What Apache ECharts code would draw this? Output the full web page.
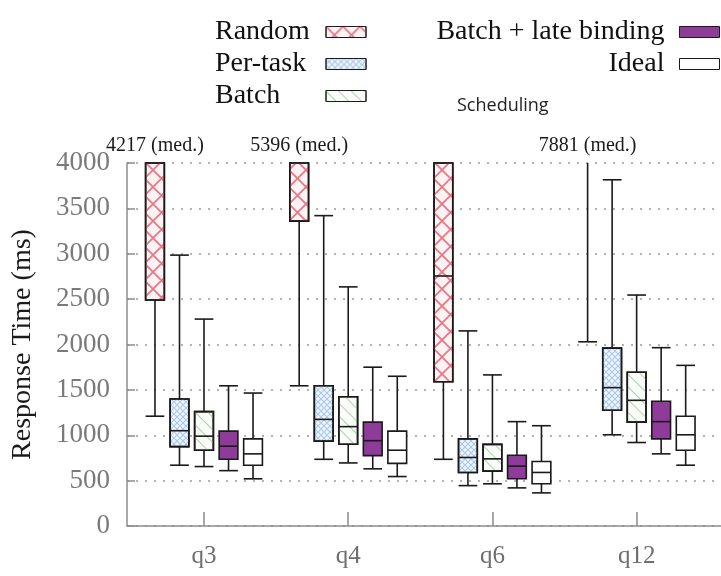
<!DOCTYPE html>
<html><head><meta charset="utf-8">
<script src="https://cdn.jsdelivr.net/npm/echarts@6/dist/echarts.min.js"></script>
<style>html,body{margin:0;padding:0;background:#fff}#chart{width:721px;height:576px}</style>
</head><body><div id="chart"></div>
<script>
// ---- data ----
const categories = ['q3', 'q4', 'q6', 'q12'];
const categoryPos = [1, 2, 3, 4];
const seriesNames = ['Random', 'Per-task', 'Batch', 'Batch + late binding', 'Ideal'];
// each row: [low whisker, Q1, median, Q3, high whisker] (ms)
const randomStats  = [[1210, 2490, 4217, 4800, 6500], [1545, 3360, 5396, 6300, 8200], [735, 1590, 2755, 4400, 6000], [2030, 4500, 7881, 9500, 12000]];
const perTaskStats = [[670, 875, 1050, 1400, 2985], [735, 935, 1175, 1545, 3420], [445, 590, 755, 960, 2150], [1005, 1275, 1525, 1960, 3815]];
const batchStats   = [[655, 835, 990, 1260, 2280], [695, 900, 1095, 1425, 2635], [465, 605, 740, 900, 1665], [920, 1145, 1385, 1695, 2545]];
const lateBindStats= [[610, 735, 880, 1045, 1545], [630, 775, 940, 1145, 1750], [420, 520, 660, 780, 1150], [795, 960, 1150, 1375, 1965]];
const idealStats   = [[520, 670, 795, 960, 1465], [545, 690, 835, 1045, 1650], [365, 465, 590, 710, 1105], [670, 835, 1005, 1210, 1770]];
const yTickValues = [0, 500, 1000, 1500, 2000, 2500, 3000, 3500, 4000];

const allStats = [randomStats, perTaskStats, batchStats, lateBindStats, idealStats];
const Y_MAX = 4000;

const xThin = 'path://M0,0L0.7,0L10,9.3L10,10L9.3,10L0,0.7Z M9.3,0L10,0L10,0.7L0.7,10L0,10L0,9.3Z';
const xMid = 'path://M0,0L1.4,0L10,8.6L10,10L8.6,10L0,1.4Z M8.6,0L10,0L10,1.4L1.4,10L0,10L0,8.6Z';
const styles = [
  { fill: '#fdf3f4', decal: { symbol: xThin, symbolSize: 1, dashArrayX: [17, 0], dashArrayY: [17, 0], color: 'rgba(230,95,110,0.85)' } },
  { fill: '#eff5fb', decal: { symbol: xMid, symbolSize: 1, dashArrayX: [6, 0], dashArrayY: [6, 0], color: 'rgba(150,188,228,0.75)' } },
  { fill: '#fafdf9', decal: { symbol: 'rect', symbolSize: 1, dashArrayX: [1, 0], dashArrayY: [1, 8], rotation: Math.PI / 4, color: 'rgba(160,210,155,0.9)' } },
  { fill: '#8e3b99', decal: null },
  { fill: '#ffffff', decal: null }
];

const serif = '"Liberation Serif", "DejaVu Serif", serif';

function makeRender(k) {
  return function (params, api) {
    const x = api.value(0);
    const lo = api.value(1), q1 = api.value(2), med = api.value(3), q3 = api.value(4), hi = api.value(5);
    const unit = api.size([1, 0])[0];
    const cx = api.coord([x, 0])[0] + (k - 2) * 0.17 * unit;
    const w = 0.13 * unit;
    const py = v => api.coord([x, Math.min(v, Y_MAX)])[1];
    const ls = { stroke: '#1a1a1a', lineWidth: 1.6 };
    const ch = [];
    if (lo < Y_MAX) {
      ch.push({ type: 'line', shape: { x1: cx, y1: py(lo), x2: cx, y2: py(q1) }, style: ls });
      ch.push({ type: 'line', shape: { x1: cx - w / 2, y1: py(lo), x2: cx + w / 2, y2: py(lo) }, style: ls });
    }
    if (q3 < Y_MAX) {
      ch.push({ type: 'line', shape: { x1: cx, y1: py(q3), x2: cx, y2: py(hi) }, style: ls });
      if (hi <= Y_MAX) ch.push({ type: 'line', shape: { x1: cx - w / 2, y1: py(hi), x2: cx + w / 2, y2: py(hi) }, style: ls });
    }
    if (q1 < Y_MAX) {
      const yTop = py(q3), yBot = py(q1);
      const st = { fill: styles[k].fill, stroke: '#1a1a1a', lineWidth: 1.6 };
      if (styles[k].decal) st.decal = styles[k].decal;
      ch.push({ type: 'rect', shape: { x: cx - w / 2, y: yTop, width: w, height: yBot - yTop }, style: st });
    }
    if (med <= Y_MAX) {
      ch.push({ type: 'line', shape: { x1: cx - w / 2, y1: py(med), x2: cx + w / 2, y2: py(med) }, style: ls });
    } else {
      ch.push({ type: 'text', x: cx, y: py(Y_MAX) - 17, style: { text: med + ' (med.)', fill: '#1a1a1a', font: '20px ' + serif, align: 'center', verticalAlign: 'middle' } });
    }
    return { type: 'group', children: ch };
  };
}

const series = seriesNames.map((name, k) => ({
  name: name,
  type: 'custom',
  renderItem: makeRender(k),
  encode: { x: 0, y: [1, 2, 3, 4, 5] },
  itemStyle: Object.assign({ color: styles[k].fill, borderColor: '#1a1a1a', borderWidth: 1 }, styles[k].decal ? { decal: styles[k].decal } : {}),
  data: allStats[k].map((r, i) => [categoryPos[i]].concat(r)),
  z: 5
}));

function legendItem(k) {
  const it = { color: styles[k].fill, borderColor: '#1a1a1a', borderWidth: 1 };
  if (styles[k].decal) it.decal = styles[k].decal;
  return { name: seriesNames[k], itemStyle: it };
}

const chart = echarts.init(document.getElementById('chart'), null, { renderer: 'canvas' });
chart.setOption({
  backgroundColor: '#fff',
  animation: false,
  title: {
    text: 'Scheduling', left: 452, top: 92,
    textStyle: { fontFamily: '"Open Sans", "Noto Sans", sans-serif', fontWeight: 'normal', fontSize: 18, color: '#222' }
  },
  legend: [
    {
      orient: 'vertical', left: 215, top: 18, padding: 0, align: 'right', icon: 'rect',
      itemWidth: 40, itemHeight: 11, itemGap: 4,
      data: [legendItem(0), legendItem(1), legendItem(2)],
      formatter: '{a|{name}}',
      textStyle: { rich: { a: { width: 106, align: 'left', fontSize: 28, fontFamily: serif, color: '#111' } } }
    },
    {
      orient: 'vertical', right: 1, top: 18, padding: 0, align: 'right', icon: 'rect',
      itemWidth: 40, itemHeight: 11, itemGap: 4,
      data: [legendItem(3), legendItem(4)],
      textStyle: { fontSize: 28, fontFamily: serif, color: '#111', padding: [0, 10, 0, 0] }
    }
  ],
  grid: { left: 127, right: 0, top: 163, bottom: 50, containLabel: false },
  xAxis: {
    type: 'value', min: 0.466, max: 4.585,
    axisLine: { lineStyle: { color: '#8c8c8c', width: 1.5 } },
    axisTick: { inside: true, length: 14, customValues: categoryPos, lineStyle: { color: '#8c8c8c', width: 1.5 } },
    axisLabel: { customValues: categoryPos, formatter: v => categories[Math.round(v) - 1], fontFamily: serif, fontSize: 25, color: '#6e6e6e', margin: 18 },
    splitLine: { show: false }
  },
  yAxis: {
    type: 'value', min: yTickValues[0], max: yTickValues[yTickValues.length - 1], interval: 500,
    name: 'Response Time (ms)', nameLocation: 'middle', nameGap: 90,
    nameTextStyle: { fontFamily: serif, fontSize: 28, color: '#1a1a1a' },
    axisLine: { show: true, lineStyle: { color: '#8c8c8c', width: 1.5 } },
    axisTick: { show: true, inside: true, length: 8, lineStyle: { color: '#8c8c8c', width: 1.5 } },
    axisLabel: { fontFamily: serif, fontSize: 27, color: '#7a7a7a', margin: 17, formatter: v => String(v) },
    splitLine: { show: true, lineStyle: { color: '#9a9a9a', type: [2, 7], width: 1.5 } }
  },
  series: series
});
</script></body></html>
